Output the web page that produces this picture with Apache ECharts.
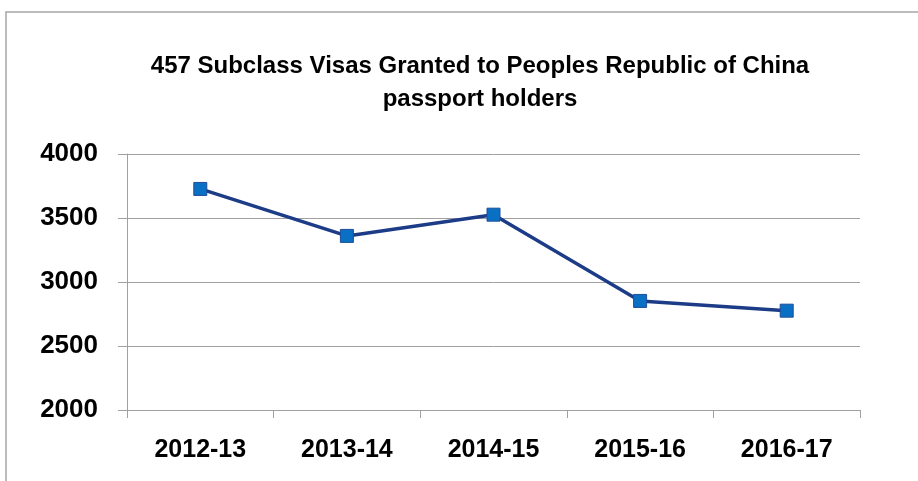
<!DOCTYPE html>
<html>
<head>
<meta charset="utf-8">
<script src="https://cdn.jsdelivr.net/npm/echarts@6/dist/echarts.min.js"></script>
<style>
html,body{margin:0;padding:0;background:#fff;}
#chart{width:918px;height:481px;}
</style>
</head>
<body>
<div id="chart"></div>
<script>
var titleText = '457 Subclass Visas Granted to Peoples Republic of China\npassport holders';
var categories = ['2012-13', '2013-14', '2014-15', '2015-16', '2016-17'];
var visasGranted = [3727, 3360, 3526, 2852, 2776];
var yMin = 2000, yMax = 4000, yStep = 500;

var FONT = "'Liberation Sans Narrow', 'Arial Narrow', 'Liberation Sans', Arial, sans-serif";
var chart = echarts.init(document.getElementById('chart'), null, {renderer: 'canvas'});
chart.setOption({
  backgroundColor: '#ffffff',
  animation: false,
  graphic: [{
    type: 'rect',
    shape: {x: 6, y: 12, width: 1000, height: 1000},
    style: {fill: 'none', stroke: '#a6a6a6', lineWidth: 1.5},
    silent: true
  }],
  title: {
    text: titleText,
    left: 475,
    top: 45,
    textAlign: 'center',
    textStyle: {
      fontFamily: FONT,
      fontWeight: 'bold',
      fontSize: 24,
      lineHeight: 33,
      color: '#000'
    }
  },
  grid: {left: 127, right: 58, top: 154, bottom: 71},
  xAxis: {
    type: 'category',
    data: categories,
    boundaryGap: true,
    axisLine: {lineStyle: {color: '#a0a0a0', width: 1}},
    axisTick: {show: true, length: 8, lineStyle: {color: '#a0a0a0'}, alignWithLabel: false},
    axisLabel: {
      margin: 28,
      fontFamily: FONT,
      fontWeight: 'bold',
      fontSize: 25,
      color: '#000'
    },
    splitLine: {show: false}
  },
  yAxis: {
    type: 'value',
    min: yMin,
    max: yMax,
    interval: yStep,
    axisLine: {show: true, lineStyle: {color: '#a0a0a0', width: 1}},
    axisTick: {show: true, length: 9, lineStyle: {color: '#a0a0a0'}},
    axisLabel: {
      margin: 29,
      fontFamily: FONT,
      fontWeight: 'bold',
      fontSize: 26,
      color: '#000',
      formatter: function (v) { return String(v); }
    },
    splitLine: {show: true, lineStyle: {color: '#a0a0a0', width: 1}}
  },
  series: [{
    type: 'line',
    data: visasGranted,
    symbol: 'rect',
    symbolSize: 13,
    lineStyle: {color: '#1d3c87', width: 3.5},
    itemStyle: {color: '#0a70c4', borderColor: '#1f4e9a', borderWidth: 1},
    z: 3
  }]
});
</script>
</body>
</html>
